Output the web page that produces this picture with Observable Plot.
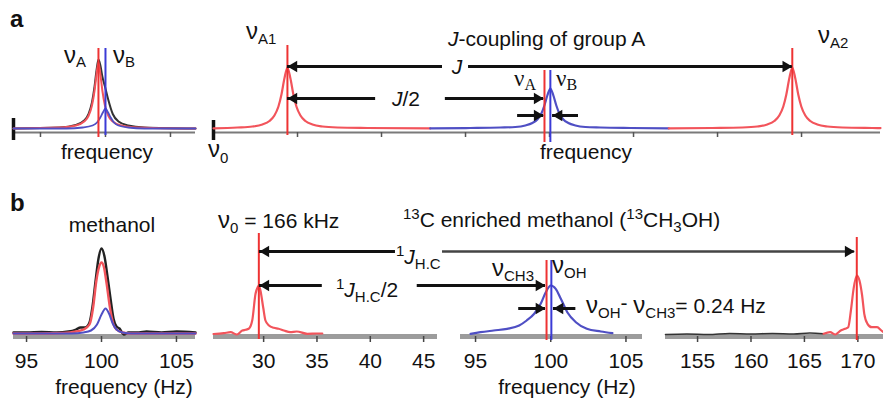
<!DOCTYPE html>
<html><head><meta charset="utf-8">
<script src="https://cdn.jsdelivr.net/npm/d3@7"></script>
<script src="https://cdn.jsdelivr.net/npm/@observablehq/plot@0.6"></script>
<style>
body{margin:0;background:#fff;}
#fig{position:relative;width:883px;height:399px;overflow:hidden;font-family:"Liberation Sans",Arial,sans-serif;background:#fff;}
#fig svg{position:absolute;left:0;top:0;}
</style></head><body><div id="fig"></div>
<script>
// ---------- DATA ----------
// Panel a (left): arbitrary frequency units, intensity units
const a1Domain = [-1.415, 1.385];
const a1Ticks = [-1, 0, 1];
const a1Black = [[-1.415,4],[-0.708,5],[-0.458,7.5],[-0.328,12],[-0.258,19],[-0.208,30],[-0.168,46],[-0.138,62],[-0.108,73],[-0.078,67],[-0.048,56],[-0.008,46],[0.042,33],[0.112,18.5],[0.2,11],[0.35,7],[0.6,5],[1.385,4]];
const a1Red = [[-1.415,4],[-0.708,5],[-0.458,7],[-0.328,11],[-0.258,17],[-0.208,27],[-0.168,42],[-0.138,58],[-0.108,70],[-0.078,58],[-0.048,42],[-0.008,27],[0.042,17],[0.112,11],[0.242,7],[0.492,5],[1.192,4],[1.385,4]];
const a1Blue = [[-1.415,4],[-0.6,4],[-0.35,5],[-0.2,7],[-0.13,10],[-0.08,15],[-0.04,20],[0,24],[0.04,20],[0.08,15],[0.13,10],[0.2,7],[0.35,5],[0.6,4],[1.385,4]];
const a1Lines = [{x:-0.108, c:"#ee3333", y1:-5, y2:84}, {x:0, c:"#3b3bd6", y1:-3, y2:84}];

// Panel a (right)
const a2Domain = [0, 7.94];
const a2Ticks = [1, 2, 3, 4, 5, 6, 7];
const a2RedL = [[0,4.2],[0.285,5],[0.463,6],[0.582,8],[0.666,11.5],[0.725,17],[0.773,26],[0.809,38],[0.844,54],[0.88,65],[0.916,54],[0.951,38],[0.987,26],[1.035,17],[1.094,11.5],[1.178,8],[1.297,6],[1.475,5],[1.832,4.5],[2.58,4.1]];
const a2Blue = [[2.58,4.1],[3.058,4.5],[3.415,5],[3.593,5.5],[3.712,7],[3.796,9.5],[3.855,13],[3.903,19],[3.939,27],[3.974,37],[4.01,44],[4.046,37],[4.081,27],[4.117,19],[4.165,13],[4.224,9.5],[4.308,7],[4.427,5.5],[4.605,5],[4.962,4.5],[5.42,4.1]];
const a2RedR = [[5.42,4.1],[5.938,4.5],[6.295,5],[6.473,6],[6.592,8],[6.676,11.5],[6.735,17],[6.783,26],[6.819,38],[6.854,54],[6.89,65],[6.926,54],[6.961,38],[6.997,26],[7.045,17],[7.104,11.5],[7.188,8],[7.307,6],[7.485,5],[7.842,4.5],[7.94,4.4]];
const a2Lines = [{x:0.88, c:"#ee3333", y1:-3, y2:87}, {x:3.94, c:"#ee3333", y1:-10, y2:62}, {x:4.01, c:"#3b3bd6", y1:-10, y2:62}, {x:6.89, c:"#ee3333", y1:-3, y2:84}];
const a2Arrows = [{x1:0.88,x2:2.726,y:66},{x1:3.036,x2:6.89,y:66},{x1:0.88,x2:1.93,y:34},{x1:2.76,x2:3.93,y:34},{x1:3.62,x2:3.93,y:17},{x1:4.345,x2:4.036,y:17}];
const a2Heads = [{x:0.88,y:66,dir:"L"},{x:6.89,y:66,dir:"R"},{x:0.88,y:34,dir:"L"},{x:3.93,y:34,dir:"R"},{x:3.93,y:17,dir:"R"},{x:4.036,y:17,dir:"L"}];

// Panel b (left): methanol, Hz
const b1Domain = [94.13, 106.27];
const b1Ticks = [95, 100, 105];
const b1Black = [[94.13,4],[95,4],[96,4.5],[97,4],[97.8,5],[98.3,7],[98.6,9],[98.9,9],[99.2,14],[99.4,30],[99.6,55],[99.8,78],[100,88],[100.2,80],[100.4,60],[100.6,38],[100.8,18],[101,10],[101.2,8],[101.5,2],[101.8,4],[102.5,4],[103,5],[104,4],[105,5],[106.27,4]];
const b1Red = [[94.13,3],[96,3],[97.5,3.5],[98.3,5],[98.8,7],[99.2,12],[99.45,30],[99.65,55],[99.85,70],[100,74],[100.15,70],[100.35,52],[100.55,30],[100.8,12],[101,7],[101.4,4],[102,3],[104,3],[106.27,3]];
const b1Blue = [[94.13,3],[96,3],[98,3],[98.8,4],[99.3,6],[99.7,12],[100,22],[100.27,28],[100.5,23],[100.75,13],[101,7],[101.4,4],[102,3],[104,3],[106.27,3]];

// Panel b (right): 13C enriched methanol, broken frequency axis (Hz)
const b2Domain = [25.3, 46.3, 94, 106.1, 152, 172.4];
const b2Segments = [{x1:25.3,x2:46.3},{x1:94,x2:106.1},{x1:152,x2:172.4}];
const b2Ticks = [30, 35, 40, 45, 95, 100, 105, 155, 160, 165, 170];
const b2Red = [[25.3,2.5],[26.27,3.3],[26.9,4.3],[27.5,2],[28.0,6],[28.3,6.7],[28.6,7.7],[28.93,16],[29.24,42.7],[29.45,49.5],[29.55,51],[29.7,46],[29.96,29],[30.17,16],[30.5,11],[30.95,8.7],[31.4,7.7],[31.9,6],[32.5,4.3],[33.1,5],[34.1,2.7],[35.0,3],[35.5,3]];
const b3Blue = [[94.67,2.7],[95.33,4.3],[96.2,6],[97.1,7.7],[97.9,11],[98.4,16],[98.9,22.7],[99.33,32.7],[99.67,44.3],[100.0,51],[100.33,47.7],[100.67,37.7],[101.1,24.3],[101.67,14.3],[102.4,7.7],[103.33,5],[104.1,3.3]];
const b4Black = [[152,2],[154,2.5],[156,2],[158,3],[160,2.5],[162,3],[164,2.5],[165.5,3.5],[166.8,2.7]];
const b4Red = [[166.8,2.7],[167.4,4.3],[167.9,2],[168.4,6],[168.8,7.7],[169.1,9.3],[169.35,26],[169.6,47.7],[169.9,61],[170.15,56],[170.4,41],[170.6,22.7],[170.9,12.7],[171.3,9.3],[171.8,9.3],[172.2,6],[172.4,4.3]];
const b2Lines = [{x:29.55, c:"#ee3333", y1:-3, y2:103}, {x:99.72, c:"#ee3333", y1:-4, y2:76}, {x:100.04, c:"#3b3bd6", y1:-4, y2:76}, {x:169.9, c:"#ee3333", y1:-4, y2:99}];
const b2Arrows = [{x1:29.6,x2:42.36,y:85,c:"#111",w:3},{x1:56.7,x2:169.7,y:85,c:"#444",w:2.5},{x1:29.6,x2:35.5,y:51,c:"#111",w:3},{x1:44.4,x2:99.65,y:51,c:"#111",w:3},{x1:97.87,x2:99.65,y:28,c:"#111",w:3},{x1:101.67,x2:100.18,y:28,c:"#111",w:3}];
const b2Heads = [{x:29.6,y:85,dir:"L"},{x:169.7,y:85,dir:"R"},{x:29.6,y:51,dir:"L"},{x:99.65,y:51,dir:"R"},{x:99.65,y:28,dir:"R"},{x:100.18,y:28,dir:"L"}];

// ---------- STYLE / LAYOUT ----------
const W = 883, H = 399;
const RED = "#f2545b", BLUE = "#4f4fc4", BLACK = "#333";
const FONT = "Liberation Sans, Arial, sans-serif";
const curve = "monotone-x";
const fig = document.getElementById("fig");
const common = {width: W, height: H, style: {background: "transparent", fontFamily: FONT, color: "#111", overflow: "visible"}, color: {type: "identity"}};
// broken-axis layout: each Hz segment gets its own horizontal span
const brokenSpans = [213, 437, 460, 642, 665, 883];
const broken = d3.scaleLinear().domain(b2Domain).range(brokenSpans);

function spec(data, stroke, w = 2) {
  return Plot.line(data, {x: d => d[0], y: d => d[1], stroke, strokeWidth: w, curve});
}
function heads(data, fill, r = 4.2) {
  return [
    Plot.dot(data, {filter: d => d.dir === "R", x: "x", y: "y", symbol: "triangle", r, fill, stroke: "none", rotate: 90, dx: -1.55 * r}),
    Plot.dot(data, {filter: d => d.dir === "L", x: "x", y: "y", symbol: "triangle", r, fill, stroke: "none", rotate: -90, dx: 1.55 * r})
  ];
}

// Row a, left
fig.append(Plot.plot({...common, marginTop: 32, marginBottom: H - 132,
  x: {domain: a1Domain, range: [13, 195]}, y: {domain: [0, 100], axis: null},
  marks: [
    Plot.ruleY([0], {x1: a1Domain[0], x2: a1Domain[1], stroke: "#7a7a7a", strokeWidth: 2}),
    Plot.axisX({ticks: a1Ticks, tickSize: 5, tickFormat: () => "", stroke: "#555", strokeWidth: 1.5, label: null}),
    Plot.ruleX([a1Domain[0]], {y1: -8, y2: 14, stroke: "#111", strokeWidth: 3.5}),
    spec(a1Black, BLACK, 2), spec(a1Red, RED, 2), spec(a1Blue, BLUE, 1.8),
    Plot.ruleX(a1Lines, {x: "x", y1: "y1", y2: "y2", stroke: "c", strokeWidth: 2})
  ]}));

// Row a, right
fig.append(Plot.plot({...common, marginTop: 32, marginBottom: H - 132,
  x: {domain: a2Domain, range: [213, 880]}, y: {domain: [0, 100], axis: null},
  marks: [
    Plot.ruleY([0], {x1: a2Domain[0], x2: a2Domain[1], stroke: "#7a7a7a", strokeWidth: 2}),
    Plot.axisX({ticks: a2Ticks, tickSize: 5, tickFormat: () => "", stroke: "#555", strokeWidth: 1.5, label: null}),
    Plot.ruleX([a2Domain[0]], {y1: -8, y2: 12, stroke: "#111", strokeWidth: 3.5}),
    spec(a2RedL, RED, 2.2), spec(a2Blue, BLUE, 2.2), spec(a2RedR, RED, 2.2),
    Plot.ruleX(a2Lines, {x: "x", y1: "y1", y2: "y2", stroke: "c", strokeWidth: 2}),
    Plot.ruleY(a2Arrows, {x1: "x1", x2: "x2", y: "y", stroke: "#111", strokeWidth: 3}),
    ...heads(a2Heads, "#111")
  ]}));

// Row b, left
fig.append(Plot.plot({...common, marginTop: 236, marginBottom: H - 336,
  x: {domain: b1Domain, range: [13, 195]}, y: {domain: [0, 100], axis: null},
  marks: [
    Plot.ruleY([0], {x1: b1Domain[0], x2: b1Domain[1], stroke: "#9c9c9c", strokeWidth: 5}),
    Plot.axisX({ticks: b1Ticks, tickSize: 6, tickPadding: 11, fontSize: 21, stroke: "#444", strokeWidth: 1.5, label: null}),
    spec(b1Black, "#222", 2.4), spec(b1Red, RED, 2.4), spec(b1Blue, BLUE, 2)
  ]}));

// Row b, right (broken axis via scale transform; ticks drawn as marks so they pass through it)
fig.append(Plot.plot({...common, marginTop: 236, marginBottom: H - 336,
  x: {transform: broken, domain: [0, W], range: [0, W], axis: null}, y: {domain: [0, 100], axis: null},
  marks: [
    Plot.ruleY(b2Segments, {x1: "x1", x2: "x2", y: 0, stroke: "#9c9c9c", strokeWidth: 5}),
    Plot.ruleX(b2Ticks, {x: d => d, y1: 0, y2: -6, stroke: "#444", strokeWidth: 1.5}),
    Plot.text(b2Ticks, {x: d => d, y: 0, text: d => String(d), lineAnchor: "top", dy: 17, fontSize: 21, fill: "#111"}),
    spec(b2Red, RED, 2.2), spec(b3Blue, BLUE, 2.2), spec(b4Black, "#333", 1.6), spec(b4Red, RED, 2.2),
    Plot.ruleX(b2Lines, {x: "x", y1: "y1", y2: "y2", stroke: "c", strokeWidth: 2}),
    Plot.ruleY(b2Arrows, {x1: "x1", x2: "x2", y: "y", stroke: "c", strokeWidth: "w"}),
    ...heads(b2Heads, "#111")
  ]}));

// ---------- TEXT OVERLAY ----------
const svg = d3.create("svg").attr("width", W).attr("height", H)
  .style("font-family", FONT).style("white-space", "pre").attr("fill", "#111");
function label(x, y, segs, anchor = "start", size = 21, extra = {}) {
  const t = svg.append("text").attr("x", x).attr("y", y).attr("text-anchor", anchor).attr("font-size", size);
  if (extra.bold) t.attr("font-weight", "bold");
  let prev = 0;
  for (const s of segs) {
    const [str, o] = typeof s === "string" ? [s, {}] : s;
    const off = o.dy || 0;
    const sp = t.append("tspan").attr("dy", off - prev).attr("font-size", o.size || size).text(str);
    if (o.it) sp.attr("font-style", "italic");
    if (o.serif) sp.attr("font-family", "Liberation Serif, Times New Roman, serif");
    prev = off;
  }
}
const nu = ["ν", {size: 24}];
const sub = (t, dy = 5) => [t, {size: 15, dy}];
const sup = (t) => [t, {size: 15, dy: -8}];

label(10, 27, ["a"], "start", 24, {bold: true});
label(10, 211, ["b"], "start", 24, {bold: true});
// row a
label(64, 63, [nu, sub("A", 4)]);
label(113, 63, [nu, sub("B", 4)]);
label(107, 159, ["frequency"], "middle");
label(246, 39, [nu, sub("A1")]);
label(448, 46, [["J", {it: true}], "-coupling of group A"]);
label(457, 74, [["J", {it: true}]], "middle");
label(392, 106, [["J", {it: true}], "/2"]);
label(514, 86, [["ν", {serif: true, size: 23}], ["A", {serif: true, size: 16, dy: 4}]]);
label(556, 86, [["ν", {serif: true, size: 23}], ["B", {serif: true, size: 16, dy: 4}]]);
label(818, 43, [nu, sub("A2")]);
label(208, 157, [nu, sub("0", 6)]);
label(586, 159, ["frequency"], "middle");
// row b
label(112, 232, ["methanol"], "middle");
label(218, 228, [nu, sub("0"), " = 166 kHz"]);
label(403, 227, [sup("13"), "C enriched methanol (", sup("13"), "CH", sub("3"), "OH)"]);
label(396, 264, [sup("1"), ["J", {it: true}], sub("H.C")]);
label(336, 297, [sup("1"), ["J", {it: true}], sub("H.C"), "/2"]);
label(492, 276, [nu, sub("CH3")]);
label(552, 273, [nu, sub("OH")]);
label(586, 313, [nu, sub("OH"), ["-", {dy: -3}], " ", nu, sub("CH3"), "= 0.24 Hz"]);
label(124, 394, ["frequency (Hz)"], "middle");
label(567, 394, ["frequency (Hz)"], "middle");
fig.append(svg.node());
</script>
</body></html>
